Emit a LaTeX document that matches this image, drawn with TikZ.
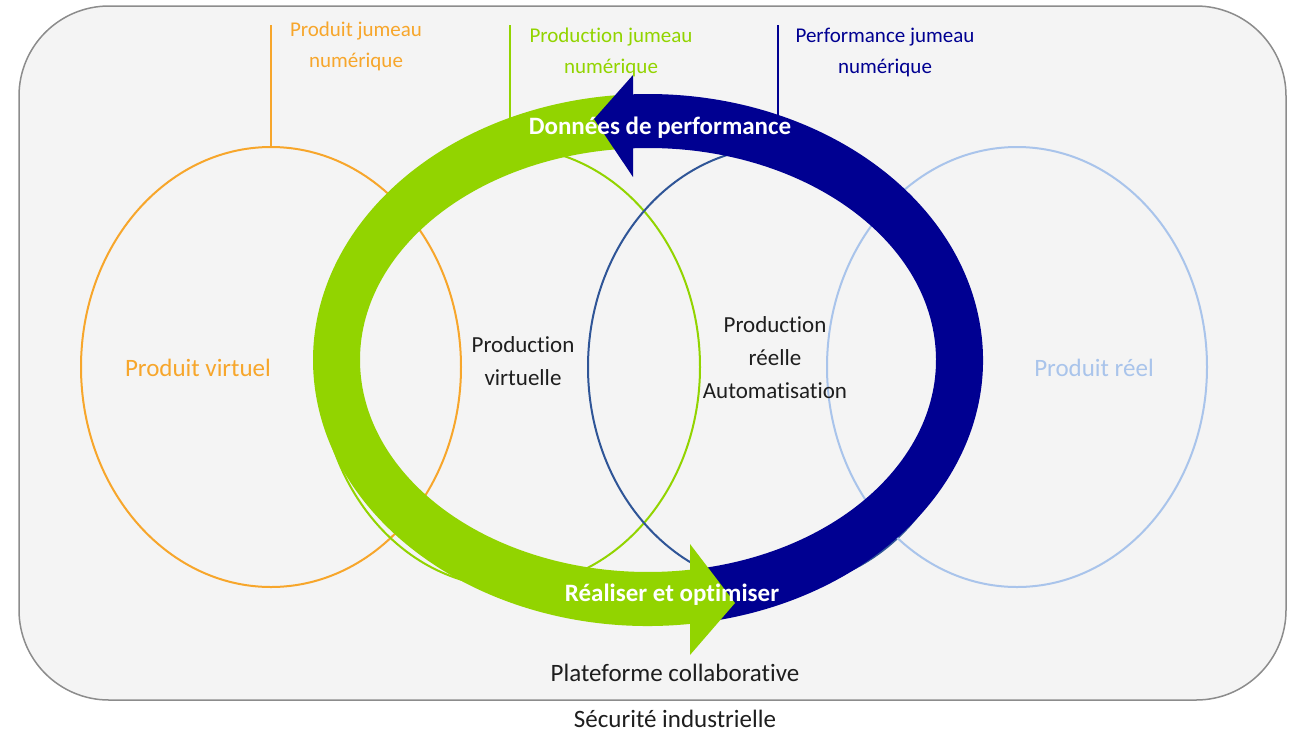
\documentclass[tikz,border=0pt]{standalone}
\usepackage{fontspec}
\setmainfont{Carlito}[Ligatures=NoCommon, Contextuals=NoAlternate]
\usetikzlibrary{shapes.geometric,calc}
\definecolor{orng}{RGB}{247,166,43}
\definecolor{grn}{RGB}{146,212,0}
\definecolor{navy}{RGB}{0,0,145}
\definecolor{steel}{RGB}{47,85,151}
\definecolor{lblue}{RGB}{169,196,235}
\definecolor{bgfill}{RGB}{244,244,244}
\definecolor{bgline}{RGB}{140,140,140}
\definecolor{txt}{RGB}{30,30,30}
\begin{document}
\begin{tikzpicture}[x=1pt,y=-1pt,
  ell/.style={ellipse, draw, line width=2pt, minimum width=380pt, minimum height=440pt, inner sep=0pt},
  toplbl/.style={align=center, inner sep=0pt, font=\fontsize{21}{31}\selectfont},
  midlbl/.style={align=center, inner sep=0pt, text=txt, font=\fontsize{23}{33}\selectfont},
  biglbl/.style={align=center, inner sep=0pt, font=\fontsize{25}{30}\selectfont},
  boldlbl/.style={align=center, inner sep=0pt, text=white, font=\fontsize{25}{30}\selectfont\bfseries}]
\useasboundingbox (0,0) rectangle (1296,732);
\fill[white] (0,0) rectangle (1296,732);
\draw[bgline, fill=bgfill, line width=1.5pt, rounded corners=90pt] (19,6) rectangle (1286,700);

% ellipses
\node[ell, draw=orng] (ev) at (271,367) {};
\node[ell, draw=grn] (eg) at (510,367) {};
\node[ell, draw=steel] (eb) at (778,367) {};
\node[ell, draw=lblue] (er) at (1017,367) {};

% label lines
\coordinate (lo) at (271,25);
\coordinate (lg) at (510,25);
\coordinate (lb) at (778,25);
\draw[orng, line width=2pt] (lo) -- (ev.north);
\draw[grn, line width=2pt] (lg) -- (eg.north);
\draw[navy, line width=2pt] (lb) -- (eb.north);

% ring arrows
\coordinate (rc) at (648,360);
\fill[grn] ($(rc)+(82.8:335 and 266)$) arc[start angle=82.8, end angle=265.2, x radius=335, y radius=266]
  -- ($(rc)+(264.4:288 and 212)$) arc[start angle=264.4, end angle=81.6, x radius=288, y radius=212] -- cycle;
\fill[navy] ($(rc)+(80.2:335 and 266)$) arc[start angle=80.2, end angle=-92.6, x radius=335, y radius=266]
  -- ($(rc)+(-93:288 and 212)$) arc[start angle=-93, end angle=78.6, x radius=288, y radius=212] -- cycle;
\coordinate (bh1) at (633,75);
\coordinate (bh2) at (594,119);
\coordinate (bh3) at (633,177);
\fill[navy] (bh1) -- (bh2) -- (bh3) -- cycle;
\coordinate (gh1) at (690,544);
\coordinate (gh2) at (735,603);
\coordinate (gh3) at (690,655);
\fill[grn] (gh1) -- (gh2) -- (gh3) -- cycle;

% texts
\node[toplbl, text=orng] (tpo) at (356,46) {Produit jumeau\\numérique};
\node[toplbl, text=grn] (tpg) at (611,52) {Production jumeau\\numérique};
\node[toplbl, text=navy] (tpb) at (885,52) {Performance jumeau\\numérique};
\node[biglbl, text=orng] (pv) at (198,368) {Produit virtuel};
\node[midlbl] (prv) at (523,361) {Production\\virtuelle};
\node[midlbl] (prr) at (775,358) {Production\\réelle\\Automatisation};
\node[biglbl, text=lblue] (pr) at (1094,368) {Produit réel};
\node[boldlbl] (dp) at (660,128) {Données de performance};
\node[boldlbl] (ro) at (672,595) {Réaliser et optimiser};
\node[biglbl, text=txt] (pc) at (675,673) {Plateforme collaborative};
\node[biglbl, text=txt] (si) at (675,719) {Sécurité industrielle};
\end{tikzpicture}
\end{document}
